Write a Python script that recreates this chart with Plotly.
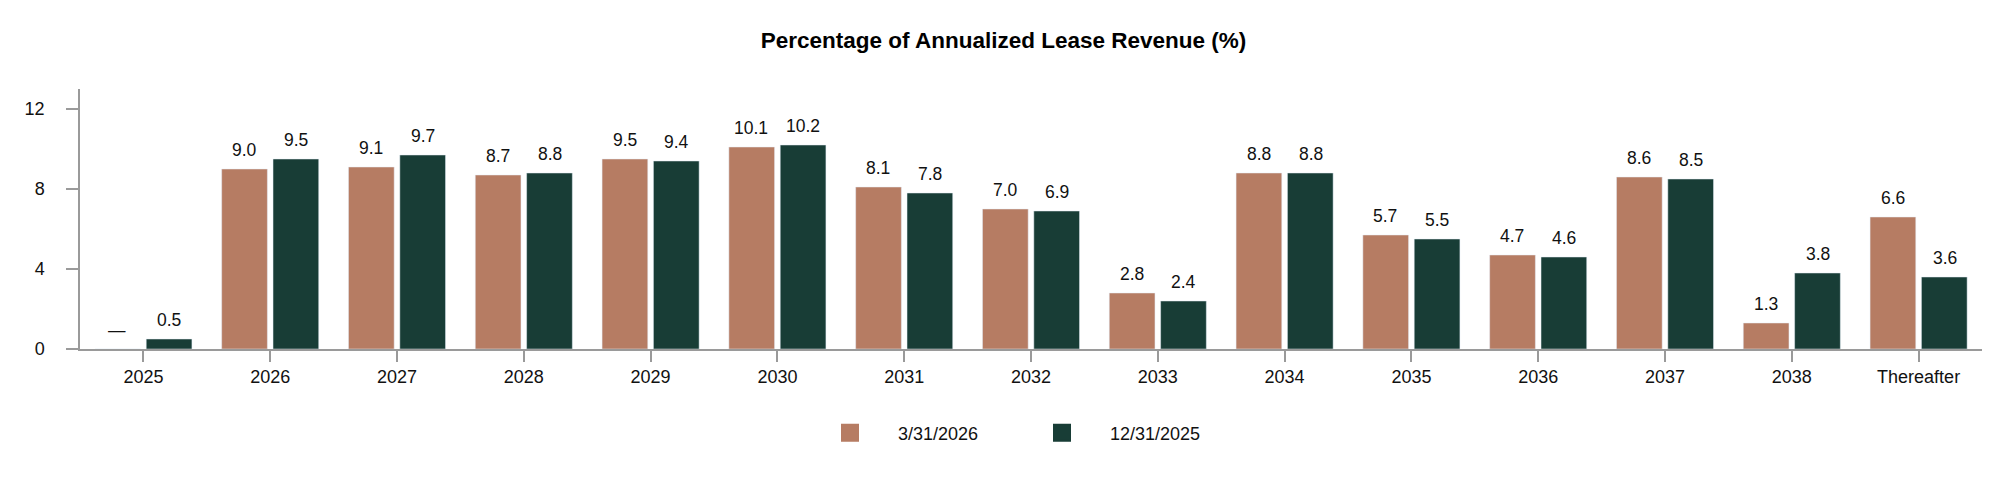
import plotly.graph_objects as go

categories = ["2025", "2026", "2027", "2028", "2029", "2030", "2031", "2032",
              "2033", "2034", "2035", "2036", "2037", "2038", "Thereafter"]
series_a_name = "3/31/2026"
series_b_name = "12/31/2025"
series_a = [0, 9.0, 9.1, 8.7, 9.5, 10.1, 8.1, 7.0, 2.8, 8.8, 5.7, 4.7, 8.6, 1.3, 6.6]
series_b = [0.5, 9.5, 9.7, 8.8, 9.4, 10.2, 7.8, 6.9, 2.4, 8.8, 5.5, 4.6, 8.5, 3.8, 3.6]
y_ticks = [0, 4, 8, 12]
title_text = "Percentage of Annualized Lease Revenue (%)"

COLOR_A = "#B67C63"
COLOR_B = "#183D36"
AXIS = "#9a9a9a"
FONT = "Liberation Sans, Arial, sans-serif"
TXT = "#111111"


def label(v):
    return "\u2014" if v == 0 else f"{v:.1f}"


fig = go.Figure()
fig.add_trace(go.Bar(x=categories, y=series_a, name=series_a_name,
                     marker=dict(color=COLOR_A), showlegend=False, hoverinfo="x+y"))
fig.add_trace(go.Bar(x=categories, y=series_b, name=series_b_name,
                     marker=dict(color=COLOR_B), showlegend=False, hoverinfo="x+y"))

# legend entries
fig.add_trace(go.Scatter(x=[None], y=[None], mode="markers", name=series_a_name,
                         marker=dict(symbol="square", size=16, color=COLOR_A,
                                     line=dict(width=2, color=COLOR_A)),
                         legend="legend"))
fig.add_trace(go.Scatter(x=[None], y=[None], mode="markers", name=series_b_name,
                         marker=dict(symbol="square", size=16, color=COLOR_B,
                                     line=dict(width=2, color=COLOR_B)),
                         legend="legend2"))

annotations = []
for i, (va, vb) in enumerate(zip(series_a, series_b)):
    for v, off in ((va, -26), (vb, 26)):
        annotations.append(dict(x=i, y=v, xref="x", yref="y", text=label(v),
                                showarrow=False, yanchor="bottom", xanchor="center",
                                xshift=off, yshift=7,
                                font=dict(family=FONT, size=17.5, color=TXT)))

legend_common = dict(orientation="h", yanchor="middle", y=-0.323, xanchor="left",
                     itemwidth=86, font=dict(family=FONT, size=18, color=TXT),
                     bgcolor="rgba(0,0,0,0)", borderwidth=0)

fig.update_layout(
    width=2012, height=484,
    margin=dict(l=80, r=30, t=89, b=135),
    paper_bgcolor="white", plot_bgcolor="white",
    barmode="group", bargap=0.19, bargroupgap=0.11,
    title=dict(text=f"<b>{title_text}</b>", x=0.4988, xref="container",
               y=1 - 40 / 484, yref="container", yanchor="middle", xanchor="center",
               font=dict(family=FONT, size=22.5, color="#000000")),
    font=dict(family=FONT, size=18, color=TXT),
    xaxis=dict(type="category", range=[-0.5, 14.5], showgrid=False,
               showline=True, linecolor=AXIS, linewidth=1.5,
               ticks="outside", ticklen=11, tickwidth=1.5, tickcolor=AXIS,
               tickfont=dict(family=FONT, size=18, color=TXT), zeroline=False),
    yaxis=dict(range=[0, 13], tickvals=y_ticks, showgrid=False, zeroline=False,
               showline=True, linecolor=AXIS, linewidth=1.5,
               ticks="outside", ticklen=12, tickwidth=1.5, tickcolor=AXIS,
               ticklabelstandoff=18,
               tickfont=dict(family=FONT, size=18, color=TXT)),
    legend=dict(x=(802 - 80) / 1902, **legend_common),
    legend2=dict(x=(1014 - 80) / 1902, **legend_common),
    annotations=annotations,
)

fig.write_html("out.html")
